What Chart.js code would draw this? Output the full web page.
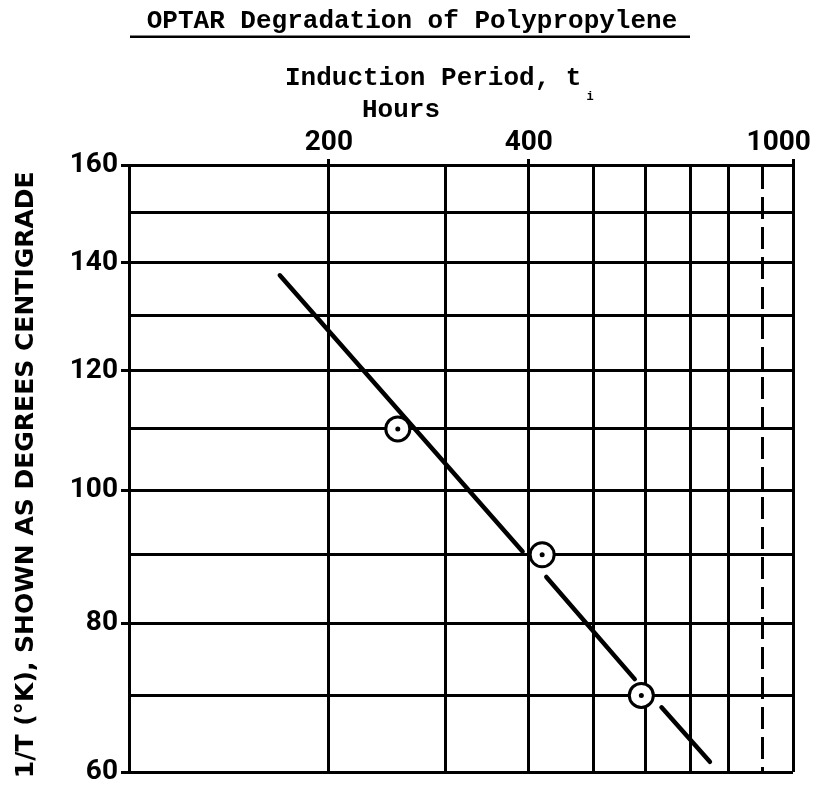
<!DOCTYPE html>
<html><head><meta charset="utf-8">
<script src="https://cdn.jsdelivr.net/npm/chart.js@4"></script>
<style>html,body{margin:0;padding:0;background:#fff}canvas{display:block}</style>
</head><body>
<canvas id="c" width="813" height="787"></canvas>
<script>
// ---- text ----
const titleText = 'OPTAR Degradation of Polypropylene';
const xTitleLine1 = 'Induction Period, t';
const xTitleSub = 'i';
const xTitleLine2 = 'Hours';
const yTitleText = '1/T (°K), SHOWN AS DEGREES CENTIGRADE\u2002';

// ---- axes (x: hours, log; y: 1/T shown as °C) ----
const hourGrid = [100, 200, 300, 400, 500, 600, 700, 800, 900, 1000];
const hourLabels = [200, 400, 1000];
const dashedHour = 900;
const tempGrid = [60, 70, 80, 90, 100, 110, 120, 130, 140, 150, 160];
const tempLabels = [60, 80, 100, 120, 140, 160];

// ---- measured points ----
const pointHours = [254, 419, 591];
const pointTempC = [110, 90, 70];

// ---- fitted line (drawn in broken segments, null = gap) ----
const fitHours = [168.7, 391.5, null, 425.1, 577.6, null, 633.8, 749.6];
const fitTempC = [137.6, 90.5, null, 86.7, 72.2, null, 68.4, 61.3];

const invT = c => 1000 / (c + 273.15);
const toC = v => 1000 / v - 273.15;

const tickFont = {family: 'Roboto, "Liberation Sans", Arial, sans-serif', size: 28, weight: 'bold', lineHeight: 1};
const monoFont = '"Liberation Mono", "Courier New", monospace';

const header = {
  id: 'header',
  afterDraw(chart) {
    const ctx = chart.ctx;
    ctx.save();
    ctx.fillStyle = '#000';
    ctx.textBaseline = 'alphabetic';
    ctx.font = 'bold 26px ' + monoFont;
    ctx.textAlign = 'center';
    ctx.fillText(titleText, 412, 28);
    ctx.fillRect(130, 35.5, 560, 2.5);
    ctx.textAlign = 'left';
    ctx.fillText(xTitleLine1, 285, 85);
    const w = ctx.measureText(xTitleLine1).width;
    ctx.fillText(xTitleLine2, 362, 117);
    ctx.font = 'bold 12px ' + monoFont;
    ctx.fillText(xTitleSub, 285 + w + 5, 100);
    ctx.restore();
  }
};

const pts = pointHours.map((h, i) => ({x: h, y: invT(pointTempC[i])}));
const fit = fitHours.map((h, i) => ({x: h, y: fitTempC[i] == null ? null : invT(fitTempC[i])}));

new Chart(document.getElementById('c'), {
  type: 'scatter',
  data: {
    datasets: [
      {type: 'scatter', data: pts, pointRadius: 2.5, pointBackgroundColor: '#000', pointBorderWidth: 0, order: 1},
      {type: 'scatter', data: pts, pointRadius: 12, pointBackgroundColor: '#fff', pointBorderColor: '#000', pointBorderWidth: 3, order: 2},
      {type: 'line', data: fit, borderColor: '#000', borderWidth: 4.5, pointRadius: 0, borderCapStyle: 'round', fill: false, tension: 0, spanGaps: false, order: 3}
    ]
  },
  options: {
    responsive: false,
    animation: false,
    layout: {padding: {left: 0, right: 20, top: 0, bottom: 10}},
    plugins: {legend: {display: false}, tooltip: {enabled: false}},
    scales: {
      x: {
        type: 'logarithmic', position: 'top', min: 100, max: 1000,
        afterBuildTicks: s => { s.ticks = hourGrid.map(v => ({value: v})); },
        afterFit: s => { s.height = 165; s.paddingLeft = 0; s.paddingRight = 0; },
        ticks: {
          autoSkip: false, maxRotation: 0, minRotation: 0, padding: 2, color: '#000', font: tickFont,
          callback: v => hourLabels.includes(v) ? (v === 1000 ? '1000\u2002\u2002' : String(v)) : ''
        },
        grid: {
          color: '#000', lineWidth: 3, drawTicks: true, tickLength: 6,
          tickColor: ctx => (ctx.tick && hourLabels.includes(ctx.tick.value)) ? '#000' : 'rgba(0,0,0,0)'
        },
        border: {
          display: true, color: '#000', width: 3,
          dash: ctx => (ctx.tick && ctx.tick.value === dashedHour) ? [22, 8] : []
        }
      },
      y: {
        type: 'linear', reverse: true, min: invT(160), max: invT(60),
        afterBuildTicks: s => { s.ticks = tempGrid.map(c => ({value: invT(c)})); },
        afterFit: s => { s.width = 129; s.paddingTop = 0; s.paddingBottom = 0; },
        ticks: {
          autoSkip: false, padding: 3, color: '#000', font: tickFont,
          callback: v => { const c = Math.round(toC(v)); return tempLabels.includes(c) ? String(c) : ''; }
        },
        grid: {
          color: '#000', lineWidth: 3, drawTicks: true, tickLength: 8,
          tickColor: ctx => (ctx.tick && tempLabels.includes(Math.round(toC(ctx.tick.value)))) ? '#000' : 'rgba(0,0,0,0)'
        },
        border: {display: true, color: '#000', width: 3},
        title: {
          display: true, text: yTitleText, color: '#000',
          font: {family: '"DejaVu Sans", Arial, sans-serif', size: 25, weight: 'bold', lineHeight: 1.2},
          padding: {top: 11, bottom: 0}
        }
      }
    }
  },
  plugins: [header]
});
</script>
</body></html>
